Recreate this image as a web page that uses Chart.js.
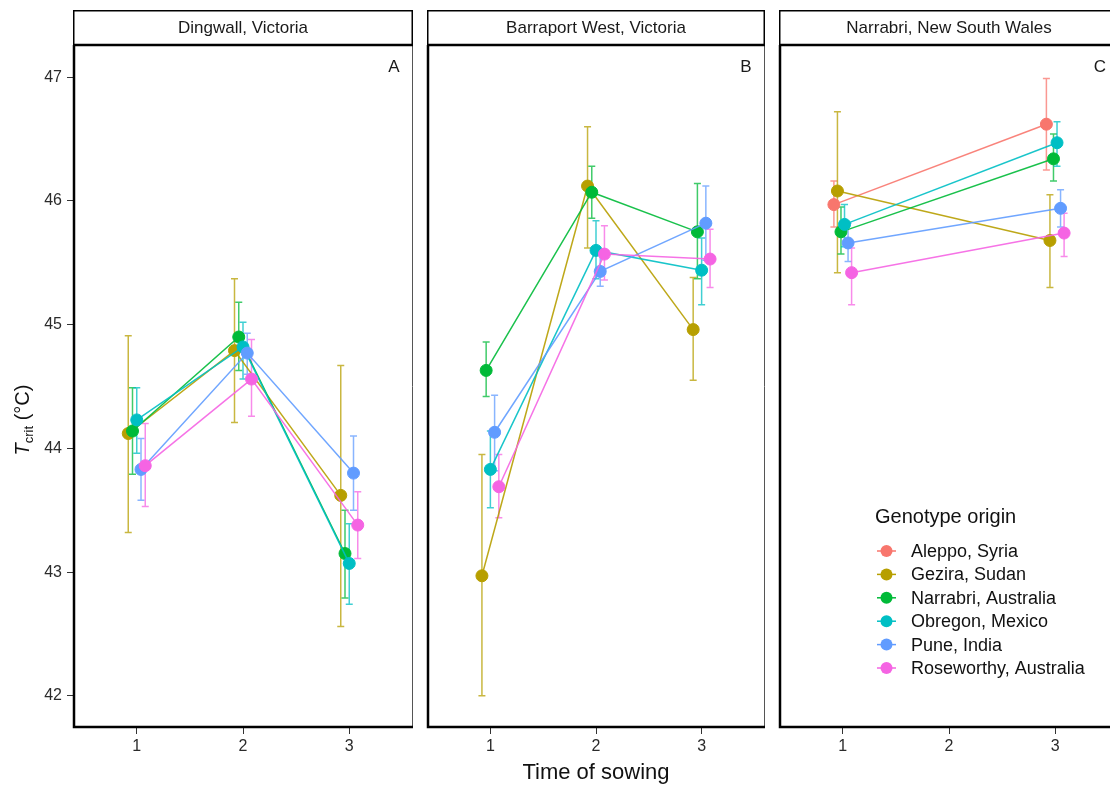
<!DOCTYPE html>
<html>
<head>
<meta charset="utf-8">
<script src="https://cdn.jsdelivr.net/npm/chart.js@4.4.1/dist/chart.umd.min.js"></script>
<style>
html, body { margin: 0; padding: 0; background: #fff; overflow: hidden; }
#wrap { position: relative; width: 1110px; height: 788px; overflow: hidden; }
#wrap canvas { position: absolute; top: 0; }
</style>
</head>
<body>
<div id="wrap">
  <canvas id="panelA" width="420" height="788" style="left:0px"></canvas>
  <canvas id="panelB" width="352" height="788" style="left:420px"></canvas>
  <canvas id="panelC" width="354" height="788" style="left:772px"></canvas>
</div>
<script>
const times = [1, 2, 3];
const yTicks = [42, 43, 44, 45, 46, 47];
const sites = ['Dingwall, Victoria', 'Barraport West, Victoria', 'Narrabri, New South Wales'];
const panelLetters = ['A', 'B', 'C'];
const genotypes = ['Aleppo, Syria', 'Gezira, Sudan', 'Narrabri, Australia', 'Obregon, Mexico', 'Pune, India', 'Roseworthy, Australia'];
const colours = ['#F8766D', '#B79F00', '#00BA38', '#00BFC4', '#619CFF', '#F564E3'];

// rows follow genotypes, columns follow times (null = not sown)
const dingwallMean = [
    [null, null, null],
    [44.12, 44.79, 43.62],
    [44.14, 44.90, 43.15],
    [44.23, 44.82, 43.07],
    [43.83, 44.77, 43.80],
    [43.86, 44.56, 43.38]
];
const dingwallLow = [
    [null, null, null],
    [43.32, 44.21, 42.56],
    [43.79, 44.63, 42.79],
    [43.96, 44.56, 42.74],
    [43.58, 44.60, 43.50],
    [43.53, 44.26, 43.11]
];
const dingwallHigh = [
    [null, null, null],
    [44.91, 45.37, 44.67],
    [44.49, 45.18, 43.50],
    [44.49, 45.02, 43.39],
    [44.08, 44.93, 44.10],
    [44.20, 44.88, 43.65]
];

const barraportMean = [
    [null, null, null],
    [42.97, 46.12, 44.96],
    [44.63, 46.07, 45.75],
    [43.83, 45.60, 45.44],
    [44.13, 45.43, 45.82],
    [43.69, 45.57, 45.53]
];
const barraportLow = [
    [null, null, null],
    [42.00, 45.62, 44.55],
    [44.42, 45.86, 45.37],
    [43.52, 45.37, 45.16],
    [43.82, 45.31, 45.52],
    [43.44, 45.36, 45.30]
];
const barraportHigh = [
    [null, null, null],
    [43.95, 46.60, 45.38],
    [44.86, 46.28, 46.14],
    [44.14, 45.84, 45.70],
    [44.43, 45.58, 46.12],
    [43.95, 45.80, 45.77]
];

const narrabriMean = [
    [45.97, null, 46.62],
    [46.08, null, 45.68],
    [45.75, null, 46.34],
    [45.81, null, 46.47],
    [45.66, null, 45.94],
    [45.42, null, 45.74]
];
const narrabriLow = [
    [45.79, null, 46.25],
    [45.42, null, 45.30],
    [45.57, null, 46.16],
    [45.63, null, 46.28],
    [45.51, null, 45.79],
    [45.16, null, 45.55]
];
const narrabriHigh = [
    [46.16, null, 46.99],
    [46.72, null, 46.05],
    [45.95, null, 46.54],
    [45.97, null, 46.64],
    [45.82, null, 46.09],
    [45.62, null, 45.90]
];

const FONT = '"Liberation Sans", Arial, Helvetica, sans-serif';
const DODGE = 0.2;

function withAlpha(hex, a) {
    const n = parseInt(hex.slice(1), 16);
    return `rgba(${(n >> 16) & 255}, ${(n >> 8) & 255}, ${n & 255}, ${a})`;
}

function buildDatasets(mean, low, high) {
    const present = genotypes.map((g, i) => i).filter(i => mean[i].some(v => v !== null));
    const n = present.length;
    return present.map((i, k) => {
        const shift = (k - (n - 1) / 2) * DODGE / n;
        const cols = times.map((t, j) => j).filter(j => mean[i][j] !== null);
        return {
            label: genotypes[i],
            data: cols.map(j => ({ x: times[j] + shift, y: mean[i][j] })),
            errLow: cols.map(j => low[i][j]),
            errHigh: cols.map(j => high[i][j]),
            borderColor: withAlpha(colours[i], 0.9),
            backgroundColor: colours[i],
            pointBackgroundColor: colours[i],
            pointBorderColor: colours[i],
            pointBorderWidth: 1,
            pointRadius: 6,
            borderWidth: 1.5,
            tension: 0,
            order: genotypes.length - i,
            colourKey: colours[i]
        };
    });
}

const errorBars = {
    id: 'errorBars',
    beforeDatasetsDraw(chart) {
        const ctx = chart.ctx;
        const y = chart.scales.y;
        ctx.save();
        chart.data.datasets.forEach((ds, di) => {
            const meta = chart.getDatasetMeta(di);
            ctx.strokeStyle = withAlpha(ds.colourKey, 0.75);
            ctx.lineWidth = 1.5;
            meta.data.forEach((pt, k) => {
                const yl = y.getPixelForValue(ds.errLow[k]);
                const yh = y.getPixelForValue(ds.errHigh[k]);
                ctx.beginPath();
                ctx.moveTo(pt.x, yl); ctx.lineTo(pt.x, yh);
                ctx.moveTo(pt.x - 3.5, yl); ctx.lineTo(pt.x + 3.5, yl);
                ctx.moveTo(pt.x - 3.5, yh); ctx.lineTo(pt.x + 3.5, yh);
                ctx.stroke();
            });
        });
        ctx.restore();
    }
};

const facetFrame = {
    id: 'facetFrame',
    afterDraw(chart, args, opts) {
        const ctx = chart.ctx;
        const a = chart.chartArea;
        ctx.save();
        // strip
        ctx.fillStyle = '#fff';
        ctx.fillRect(a.left, 10, a.right - a.left, a.top - 10);
        ctx.strokeStyle = '#000';
        ctx.lineWidth = 1.5;
        ctx.strokeRect(a.left + 0.75, 10.75, a.right - a.left - 1.5, a.top - 10.75);
        ctx.fillStyle = '#1a1a1a';
        ctx.font = '17px ' + FONT;
        ctx.textAlign = 'center';
        ctx.textBaseline = 'middle';
        ctx.fillText(opts.site, (a.left + a.right) / 2, 28.5);
        // panel border
        ctx.strokeStyle = '#555';
        ctx.lineWidth = 1;
        ctx.beginPath();
        ctx.moveTo(a.right - 0.5, a.top); ctx.lineTo(a.right - 0.5, a.bottom);
        ctx.stroke();
        ctx.strokeStyle = '#000';
        ctx.lineWidth = 2.5;
        ctx.beginPath();
        ctx.moveTo(a.left, a.top); ctx.lineTo(a.right, a.top);
        ctx.moveTo(a.left + 1, a.top); ctx.lineTo(a.left + 1, a.bottom - 1);
        ctx.lineTo(a.right, a.bottom - 1);
        ctx.stroke();
        // panel letter
        ctx.fillStyle = '#1a1a1a';
        ctx.font = '17px ' + FONT;
        ctx.fillText(opts.letter, a.right - 19, 67);

        if (opts.yTitle) {
            ctx.translate(22, 420);
            ctx.rotate(-Math.PI / 2);
            const f1 = 'italic 20px ' + FONT, f2 = '13px ' + FONT, f3 = '20px ' + FONT;
            ctx.font = f1; const w1 = ctx.measureText('T').width;
            ctx.font = f2; const w2 = ctx.measureText('crit').width;
            ctx.font = f3; const w3 = ctx.measureText(' (°C)').width;
            let x = -(w1 + w2 + w3) / 2;
            ctx.textAlign = 'left';
            ctx.textBaseline = 'alphabetic';
            ctx.fillStyle = '#111';
            ctx.font = f1; ctx.fillText('T', x, 7); x += w1;
            ctx.font = f2; ctx.fillText('crit', x, 11); x += w2;
            ctx.font = f3; ctx.fillText(' (°C)', x, 7);
            ctx.setTransform(1, 0, 0, 1, 0, 0);
        }

        if (opts.legend) {
            const lx = a.left + 96;
            ctx.textAlign = 'left';
            ctx.textBaseline = 'middle';
            ctx.fillStyle = '#111';
            ctx.font = '20px ' + FONT;
            ctx.fillText('Genotype origin', lx, 517);
            ctx.font = '18px ' + FONT;
            genotypes.forEach((g, i) => {
                const yy = 551 + i * 23.4;
                ctx.strokeStyle = colours[i];
                ctx.lineWidth = 1.5;
                ctx.beginPath();
                ctx.moveTo(lx + 2, yy); ctx.lineTo(lx + 21, yy);
                ctx.stroke();
                ctx.fillStyle = colours[i];
                ctx.beginPath();
                ctx.arc(lx + 11.5, yy, 6, 0, Math.PI * 2);
                ctx.fill();
                ctx.fillStyle = '#111';
                ctx.fillText(g, lx + 36, yy + 1);
            });
        }
        ctx.restore();
    }
};

function makeChart(id, mean, low, high, p) {
    return new Chart(document.getElementById(id), {
        type: 'line',
        data: { datasets: buildDatasets(mean, low, high) },
        options: {
            responsive: false,
            animation: false,
            events: [],
            devicePixelRatio: 1,
            layout: { padding: { left: p.padL, right: p.padR, top: 45, bottom: 0 } },
            scales: {
                x: {
                    type: 'linear',
                    min: 0.4,
                    max: 3.6,
                    afterBuildTicks: s => { s.ticks = times.map(v => ({ value: v })); },
                    afterFit: s => { s.height = 60; },
                    grid: { drawOnChartArea: false, drawTicks: true, tickLength: 6, color: '#333', lineWidth: 1 },
                    border: { display: false },
                    ticks: { color: '#2b2b2b', font: { family: FONT, size: 16 }, padding: 3 },
                    title: {
                        display: p.xTitle,
                        text: 'Time of sowing',
                        color: '#111',
                        font: { family: FONT, size: 22 },
                        padding: { top: 0, bottom: 2 }
                    }
                },
                y: {
                    type: 'linear',
                    display: p.yAxis,
                    min: 41.74,
                    max: 47.26,
                    afterBuildTicks: s => { s.ticks = yTicks.map(v => ({ value: v })); },
                    afterFit: s => { s.width = p.yAxis ? 73 : 0; },
                    grid: { drawOnChartArea: false, drawTicks: true, tickLength: 6, color: '#333', lineWidth: 1 },
                    border: { display: false },
                    ticks: { color: '#2b2b2b', font: { family: FONT, size: 16 }, padding: 5 }
                }
            },
            plugins: {
                legend: { display: false },
                tooltip: { enabled: false },
                facetFrame: { site: p.site, letter: p.letter, yTitle: p.yAxis, legend: p.legend }
            }
        },
        plugins: [errorBars, facetFrame]
    });
}

makeChart('panelA', dingwallMean, dingwallLow, dingwallHigh,
    { padL: 0, padR: 7, yAxis: true, xTitle: false, legend: false, site: sites[0], letter: panelLetters[0] });
makeChart('panelB', barraportMean, barraportLow, barraportHigh,
    { padL: 6, padR: 6, yAxis: false, xTitle: true, legend: false, site: sites[1], letter: panelLetters[1] });
makeChart('panelC', narrabriMean, narrabriLow, narrabriHigh,
    { padL: 7, padR: 7, yAxis: false, xTitle: false, legend: true, site: sites[2], letter: panelLetters[2] });
</script>
</body>
</html>
